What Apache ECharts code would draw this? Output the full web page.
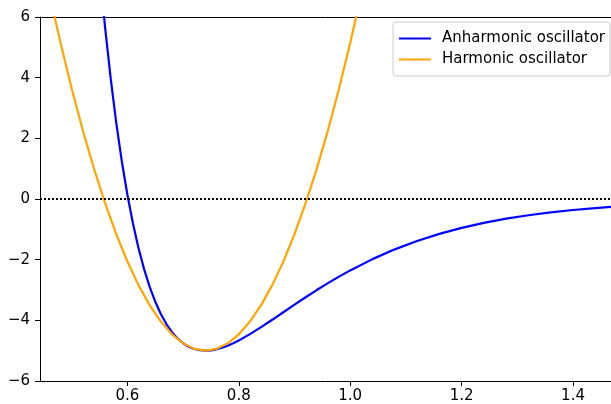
<!DOCTYPE html>
<html><head><meta charset="utf-8">
<script src="https://cdn.jsdelivr.net/npm/echarts@6/dist/echarts.min.js"></script>
<style>html,body{margin:0;padding:0;background:#fff}#c{width:611px;height:404px}</style>
</head><body><div id="c"></div>
<script>
// Anharmonic (Morse) potential
const anharmR = [0.55,0.56,0.57,0.58,0.59,0.60,0.61,0.62,0.63,0.64,0.65,0.66,0.67,0.68,0.69,0.70,0.71,0.72,0.73,0.74,0.75,0.76,0.77,0.78,0.79,0.80,0.82,0.84,0.86,0.88,0.90,0.92,0.94,0.96,0.98,1.00,1.04,1.08,1.12,1.16,1.20,1.24,1.28,1.32,1.36,1.40,1.44,1.48];
const anharmV = [7.57,5.652,3.973,2.509,1.238,0.139,-0.809,-1.621,-2.311,-2.896,-3.385,-3.791,-4.122,-4.388,-4.597,-4.755,-4.869,-4.945,-4.987,-5.0,-4.988,-4.955,-4.903,-4.836,-4.755,-4.664,-4.456,-4.226,-3.982,-3.733,-3.484,-3.239,-3.002,-2.775,-2.558,-2.354,-1.982,-1.660,-1.384,-1.150,-0.953,-0.787,-0.649,-0.535,-0.440,-0.362,-0.298,-0.244];
// Harmonic potential
const harmR = [0.44,0.46,0.48,0.50,0.52,0.54,0.56,0.58,0.60,0.62,0.64,0.66,0.68,0.70,0.72,0.74,0.76,0.78,0.80,0.82,0.84,0.86,0.88,0.90,0.92,0.94,0.96,0.98,1.00,1.02];
const harmV = [8.5,6.76,5.14,3.64,2.26,1.0,-0.14,-1.16,-2.06,-2.84,-3.5,-4.04,-4.46,-4.76,-4.94,-5.0,-4.94,-4.76,-4.46,-4.04,-3.5,-2.84,-2.06,-1.16,-0.14,1.0,2.26,3.64,5.14,6.76];
const xTicks = [0.6,0.8,1.0,1.2,1.4];
const yTicks = [-6,-4,-2,0,2,4,6];
const seriesNames = ['Anharmonic oscillator','Harmonic oscillator'];

const font = 'DejaVu Sans';
const zip = (a,b) => a.map((v,i)=>[v,b[i]]);
const chart = echarts.init(document.getElementById('c'), null, {renderer:'canvas'});
chart.setOption({
  animation:false,
  grid:{left:40, right:-2, top:17, bottom:23},
  xAxis:[{
    type:'value', min:0.4431, max:1.4682, position:'bottom',
    axisLine:{show:true, onZero:false, lineStyle:{color:'#000', width:1}},
    axisTick:{show:true, length:5, lineStyle:{color:'#000'}, customValues:xTicks},
    axisLabel:{color:'#000', fontFamily:font, fontSize:15, margin:8, customValues:xTicks, formatter:v=>Number(v).toFixed(1)},
    splitLine:{show:false}
  },{
    type:'value', min:0.4431, max:1.4682, position:'top',
    axisLine:{show:true, onZero:false, lineStyle:{color:'#000', width:1}},
    axisTick:{show:false}, axisLabel:{show:false}, splitLine:{show:false}
  }],
  yAxis:[{
    type:'value', min:-6, max:6, interval:2,
    axisLine:{show:true, onZero:false, lineStyle:{color:'#000', width:1}},
    axisTick:{show:true, length:5, lineStyle:{color:'#000'}},
    axisLabel:{color:'#000', fontFamily:font, fontSize:15, margin:10, formatter:v=> v<0 ? '\u2212'+(-v) : String(v)},
    splitLine:{show:false}
  }],
  legend:{
    data:seriesNames, orient:'vertical', left:393, top:22,
    icon:'rect', itemWidth:32, itemHeight:2, itemGap:4,
    padding:[8,5,8,6],
    borderColor:'#cccccc', borderWidth:1, borderRadius:3, backgroundColor:'#fff',
    textStyle:{fontFamily:font, fontSize:15, lineHeight:17, color:'#000', padding:[0,0,0,6]}
  },
  series:[{
    name:seriesNames[0], type:'line', data:zip(anharmR, anharmV), symbol:'none', clip:true,
    lineStyle:{color:'#0000ff', width:2.2}, itemStyle:{color:'#0000ff'}, z:3,
    markLine:{silent:true, symbol:'none', label:{show:false},
      lineStyle:{color:'#000', type:[2,2], width:2}, data:[{yAxis:0}]}
  },{
    name:seriesNames[1], type:'line', data:zip(harmR, harmV), symbol:'none', clip:true,
    lineStyle:{color:'#ffa500', width:2.2}, itemStyle:{color:'#ffa500'}, z:4
  }]
});
</script></body></html>
